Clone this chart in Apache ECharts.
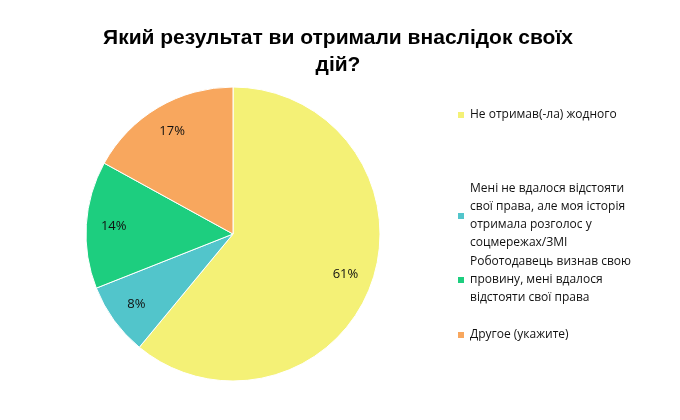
<!DOCTYPE html><html><head><meta charset="utf-8">
<script src="https://cdn.jsdelivr.net/npm/echarts@6/dist/echarts.min.js"></script>
<style>html,body{margin:0;background:#fff}#c{width:680px;height:420px}</style></head><body><div id="c"></div>
<script>
const categories=['Не отримав(-ла) жодного','Мені не вдалося відстояти\nсвої права, але моя історія\nотримала розголос у\nсоцмережах/ЗМІ','Роботодавець визнав свою\nпровину, мені вдалося\nвідстояти свої права','Другое (укажите)'];
const values=[61,8,14,17];
const colors=['#F4F176','#52C5CB','#1DCE7F','#F8A75E'];
const legendTops=[101,175,248,321];
const data=categories.map((n,i)=>({name:n,value:values[i],itemStyle:{color:colors[i]}}));
const chart=echarts.init(document.getElementById('c'));
chart.setOption({
 animation:false,
 title:{text:'Який результат ви отримали внаслідок своїх\nдій?',left:333,textAlign:'center',top:20,
  textStyle:{fontFamily:'Liberation Sans',fontWeight:'bold',fontSize:21,lineHeight:27,color:'#000'}},
 legend:categories.map((n,i)=>({data:[n],left:451,top:legendTops[i],orient:'vertical',itemWidth:8,itemHeight:8,icon:'rect',itemGap:4,
  textStyle:{fontFamily:'Open Sans',fontSize:12,lineHeight:18,color:'#111'}})),
 series:[
  {type:'pie',center:[233,234],radius:147,startAngle:90,clockwise:true,data:data,label:{show:false},labelLine:{show:false},
   itemStyle:{borderColor:'#fff',borderWidth:1}},
  {type:'pie',center:[233,234],radius:[86,147],startAngle:90,clockwise:true,silent:true,legendHoverLink:false,
   data:categories.map((n,i)=>({name:n+' ',value:values[i],itemStyle:{color:'transparent'}})),
   label:{show:true,position:'inside',formatter:'{c}%',fontFamily:'Open Sans',fontSize:13,color:'#111'},labelLine:{show:false}}
 ]
});
</script></body></html>
